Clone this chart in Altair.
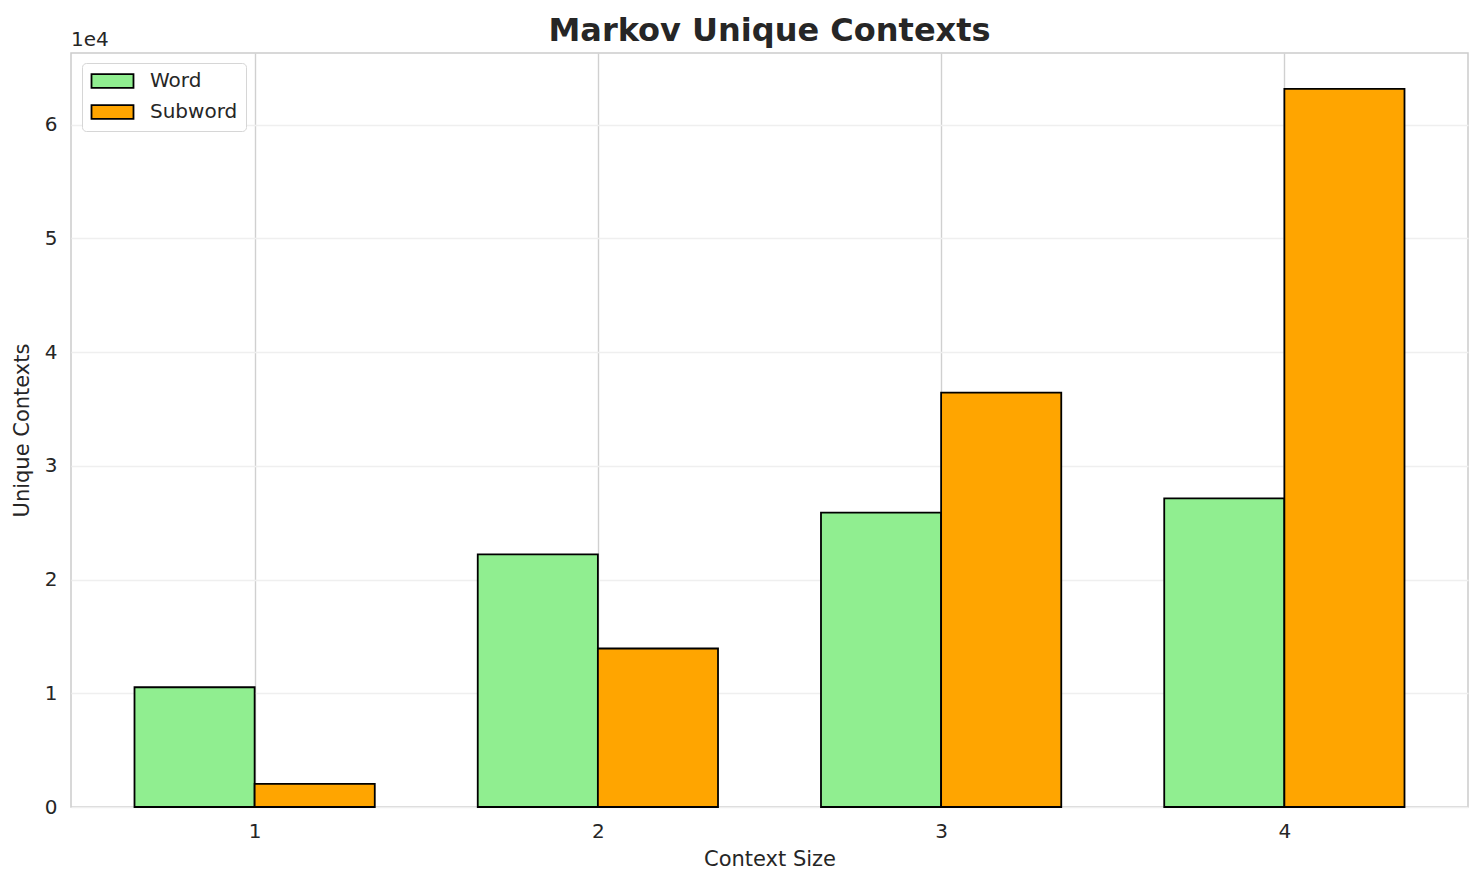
import pandas as pd
import altair as alt

# values
context_sizes = [1, 2, 3, 4]
word_contexts = [10530, 22210, 25880, 27140]
subword_contexts = [2030, 13935, 36440, 63140]
series_names = ["Word", "Subword"]
series_colors = ["#90EE90", "#FFA500"]
y_ticks = [0, 10000, 20000, 30000, 40000, 50000, 60000]

BAR_W = 0.35
TEXT = "#262626"
FONT = "DejaVu Sans"

rows = []
for ctx, w, s in zip(context_sizes, word_contexts, subword_contexts):
    rows.append({"ctx": ctx, "series": "Word", "value": w, "x0": ctx - BAR_W, "x1": ctx})
    rows.append({"ctx": ctx, "series": "Subword", "value": s, "x0": ctx, "x1": ctx + BAR_W})
df = pd.DataFrame(rows)

# wide flat legend swatch, drawn to the right of a small nominal symbol
swatch = "M-1,-0.82L3.94,-0.82L3.94,0.82L-1,0.82Z"

bars = alt.Chart(df).mark_bar(stroke="black", strokeWidth=1.8).encode(
    x=alt.X("x0:Q", title="Context Size",
            scale=alt.Scale(domain=[0.465, 4.535], nice=False, zero=False),
            axis=alt.Axis(values=context_sizes, format="d", grid=True, gridColor="#d0d0d0",
                          gridWidth=1.4, ticks=False, domain=False, labelPadding=14,
                          titlePadding=7)),
    x2="x1:Q",
    y=alt.Y("value:Q", title="Unique Contexts",
            scale=alt.Scale(domain=[0, 66300], nice=False),
            axis=alt.Axis(values=y_ticks, labelExpr="datum.value / 10000", grid=True,
                          gridColor="#efefef", gridWidth=1.3, ticks=False, domain=False,
                          labelPadding=14, titlePadding=12)),
    y2=alt.datum(0),
    color=alt.Color("series:N", title=None,
                    scale=alt.Scale(domain=series_names, range=series_colors),
                    legend=alt.Legend(orient="none", legendX=11, legendY=10,
                                      symbolType=swatch, symbolSize=289,
                                      symbolStrokeColor="black", symbolStrokeWidth=1.8,
                                      labelOffset=40, rowPadding=9, padding=8,
                                      cornerRadius=4, strokeColor="#d6d6d6",
                                      fillColor="white")),
    tooltip=["ctx", "series", "value"],
)

exponent = alt.Chart(pd.DataFrame({"t": ["1e4"]})).mark_text(
    align="left", baseline="middle", fontSize=20, font=FONT, color=TEXT
).encode(x=alt.value(0), y=alt.value(-13), text="t:N")

chart = alt.layer(bars, exponent).properties(
    width=1397,
    height=754,
    title=alt.Title("Markov Unique Contexts", fontSize=32, fontWeight="bold",
                    font=FONT, color=TEXT, anchor="middle", offset=8, dy=26),
    autosize=alt.AutoSizeParams(type="none"),
    padding={"left": 63, "top": 45, "right": 8, "bottom": 70},
).configure_view(
    stroke="#cccccc", strokeWidth=1.5
).configure_axis(
    labelFont=FONT, titleFont=FONT, labelColor=TEXT, titleColor=TEXT,
    labelFontSize=20, titleFontSize=21, titleFontWeight="normal"
).configure_legend(
    labelFont=FONT, labelFontSize=20, labelColor=TEXT
)

chart.save("out.html", embed_options={"renderer": "svg", "actions": False})
